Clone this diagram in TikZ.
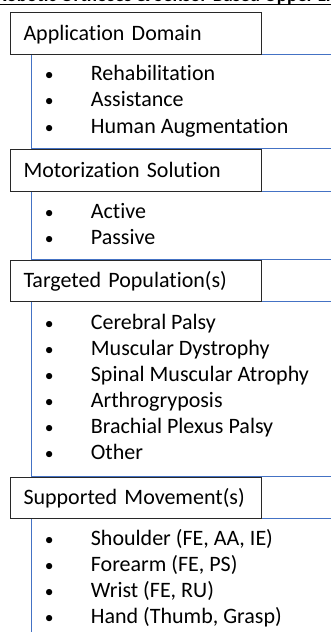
\documentclass[tikz,border=0pt]{standalone}
\usepackage{fontspec}
\setmainfont[Ligatures=NoCommon]{Carlito}
\definecolor{frameblue}{RGB}{68,114,196}
\definecolor{boxline}{RGB}{40,40,40}
\pgfdeclarelayer{bg}
\pgfsetlayers{bg,main}
\begin{document}
\begin{tikzpicture}[x=1pt,y=-1pt,
  headbox/.style={draw=boxline, line width=1pt, fill=white, anchor=north west,
    minimum width=251pt, text width=225pt, inner xsep=13pt, inner ysep=0pt,
    align=left, font=\fontsize{22}{26}\selectfont, text height=15.2pt, text depth=1pt},
  frame/.style={draw=frameblue, line width=0.9pt},
  listitem/.style={anchor=base west, inner sep=0pt, font=\fontsize{22}{26}\selectfont},
  titletext/.style={anchor=base west, inner sep=0pt, font=\fontsize{19}{22}\selectfont\bfseries}
]
\useasboundingbox (0,0) rectangle (331,632);
\clip (0,0) rectangle (331,632);

% title (cropped at top)
\node[titletext] (title) at (-4,1.4) {Robotic Orthoses \& Sensor-Based Upper Limb};
\draw[line width=1.4pt] ([yshift=-3pt]title.base west) -- ([yshift=-3pt]title.base east);

% header boxes
\node[headbox, minimum height=41.5pt] (h1) at (10,12) {Application Domain};
\node[headbox, minimum height=42pt] (h2) at (10,148.5) {Motorization Solution};
\node[headbox, minimum height=41pt] (h3) at (10,259.5) {Targeted Population(s)};
\node[headbox, minimum height=41pt] (h4) at (10,476.5) {Supported Movement(s)};

% frames behind
\coordinate (fl) at (31,0);
\coordinate (fr) at (345,0);
\coordinate (fb) at (0,650);
\begin{pgfonlayer}{bg}
\fill[white] (0,0) rectangle (331,632);
\draw[frame] (h1.south -| fl) rectangle (h2.north -| fr);
\draw[frame] (h2.south -| fl) rectangle (h3.north -| fr);
\draw[frame] (h3.south -| fl) rectangle (h4.north -| fr);
\draw[frame] (h4.south -| fl) rectangle (fb -| fr);
\end{pgfonlayer}

\newcommand{\bul}[1]{\makebox[0pt][c]{\scalebox{0.8}{•}}\hspace{41.7pt}#1}

% section 1
\node[listitem] (a1) at (49,80)    {\bul{Rehabilitation}};
\node[listitem] (a2) at (49,106.5) {\bul{Assistance}};
\node[listitem] (a3) at (49,133)   {\bul{Human Augmentation}};

% section 2
\node[listitem] (b1) at (49,218.5) {\bul{Active}};
\node[listitem] (b2) at (49,244.5) {\bul{Passive}};

% section 3
\node[listitem] (c1) at (49,329)   {\bul{Cerebral Palsy}};
\node[listitem] (c2) at (49,355)   {\bul{Muscular Dystrophy}};
\node[listitem] (c3) at (49,381)   {\bul{Spinal Muscular Atrophy}};
\node[listitem] (c4) at (49,407)   {\bul{Arthrogryposis}};
\node[listitem] (c5) at (49,433)   {\bul{Brachial Plexus Palsy}};
\node[listitem] (c6) at (49,459)   {\bul{Other}};

% section 4
\node[listitem] (d1) at (49,545.5) {\bul{Shoulder (FE, AA, IE)}};
\node[listitem] (d2) at (49,571.5) {\bul{Forearm (FE, PS)}};
\node[listitem] (d3) at (49,597.5) {\bul{Wrist (FE, RU)}};
\node[listitem] (d4) at (49,623.5) {\bul{Hand (Thumb, Grasp)}};
\end{tikzpicture}
\end{document}
